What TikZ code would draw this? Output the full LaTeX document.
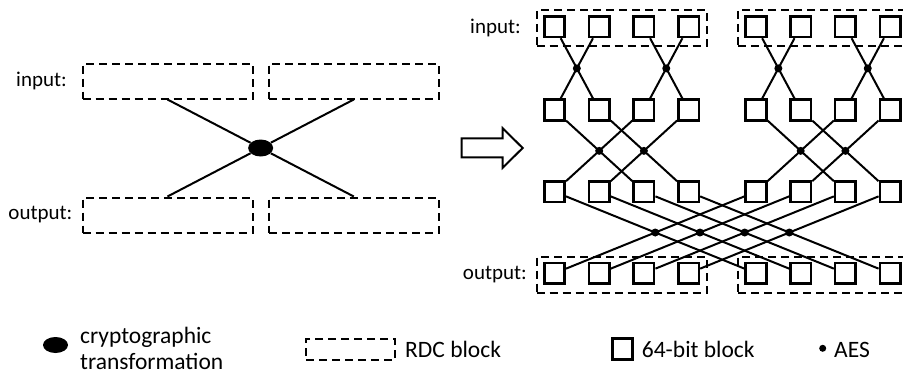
\documentclass[tikz,border=0pt]{standalone}
\usepackage{fontspec}
\setmainfont{Carlito}
\usetikzlibrary{calc,shapes.geometric}
\begin{document}
\begin{tikzpicture}[x=1pt,y=-1pt,
  rdc/.style={draw, line width=2pt, dash pattern=on 8pt off 5pt, inner sep=0pt,
              minimum width=170pt, minimum height=35pt},
  blk/.style={draw, line width=2.6pt, inner sep=0pt, minimum size=20.5pt},
  wire/.style={line width=2pt},
  aes/.style={circle, fill, inner sep=0pt, minimum size=8pt},
  crypt/.style={ellipse, fill, inner sep=0pt, minimum width=25pt, minimum height=17pt},
  lbl/.style={inner sep=0pt, font=\fontsize{21}{25}\selectfont},
  leg/.style={inner sep=0pt, font=\fontsize{23.5}{27}\selectfont},
]
\useasboundingbox (0,0) rectangle (903,376);

% ---- left: one transformation over two RDC blocks ----
\node[rdc] (inL)  at (167.5,81)  {};
\node[rdc] (inR)  at (353.8,81)  {};
\node[rdc] (outL) at (167.5,215) {};
\node[rdc] (outR) at (353.8,215) {};
\node[lbl, anchor=east] (inLbl)  at (67,81)    {input:};
\node[lbl, anchor=east] (outLbl) at (72.5,215) {output:};
\node[crypt] (ct) at ($(inL.south)!0.5!(outR.north)$) {};
\draw[wire] (inL.south) -- (ct) -- (outR.north);
\draw[wire] (inR.south) -- (ct) -- (outL.north);

% ---- block arrow ----
\draw[line width=2pt, line join=miter]
  (461.7,138.3) -- (502.7,138.3) -- (502.7,128.3) -- (522.7,148)
  -- (502.7,167.7) -- (502.7,157.3) -- (461.7,157.3) -- cycle;

% ---- right: butterfly network of 64-bit blocks ----
\node[rdc, minimum height=36pt] (inA)  at (621.5,27.8)  {};
\node[rdc, minimum height=36pt] (inB)  at (823,27.8)    {};
\node[rdc, minimum height=36pt] (outA) at (621.5,274.6) {};
\node[rdc, minimum height=36pt] (outB) at (823,274.6)   {};
\node[lbl, anchor=east] (inLbl2)  at (521,27.8)  {input:};
\node[lbl, anchor=east] (outLbl2) at (527,274.6) {output:};

\foreach \r/\y in {1/26.7,2/110,3/191.7,4/273.3}{
  \foreach \c/\x in {1/554.5,2/599.2,3/643.9,4/688.6,5/756,6/800.7,7/845.4,8/890.1}{
    \node[blk] (s\r\c) at (\x,\y) {};
  }
}

% first stage: neighbouring pairs
\foreach \a/\b in {1/2,3/4,5/6,7/8}{
  \draw[wire] (s1\a) -- (s2\b);
  \draw[wire] (s1\b) -- (s2\a);
  \node[aes] (da\a) at ($(s1\a)!0.5!(s2\b)$) {};
}
% second stage: distance two
\foreach \a/\b in {1/3,2/4,5/7,6/8}{
  \draw[wire] (s2\a) -- (s3\b);
  \draw[wire] (s2\b) -- (s3\a);
  \node[aes] (db\a) at ($(s2\a)!0.5!(s3\b)$) {};
}
% third stage: across the two halves
\foreach \a/\b in {1/5,2/6,3/7,4/8}{
  \draw[wire] (s3\a) -- (s4\b);
  \draw[wire] (s3\b) -- (s4\a);
  \node[aes] (dc\a) at ($(s3\a)!0.5!(s4\b)$) {};
}

% ---- legend ----
\node[crypt, minimum height=16pt] (lgC) at (55.5,345) {};
\node[leg, anchor=base west] (lgC1) at (80,343) {cryptographic};
\node[leg, anchor=base west] (lgC2) at (80,369) {transformation};
\node[rdc, minimum width=89pt, minimum height=21pt] (lgR) at (350.5,349.5) {};
\node[leg, anchor=base west] (lgRt) at (405,357) {RDC block};
\node[blk] (lgB) at (622.5,349) {};
\node[leg, anchor=base west] (lgBt) at (641.7,357) {64-bit block};
\node[aes, minimum size=7pt] (lgA) at (822.7,348.3) {};
\node[leg, anchor=base west] (lgAt) at (834,357) {AES};
\end{tikzpicture}
\end{document}
